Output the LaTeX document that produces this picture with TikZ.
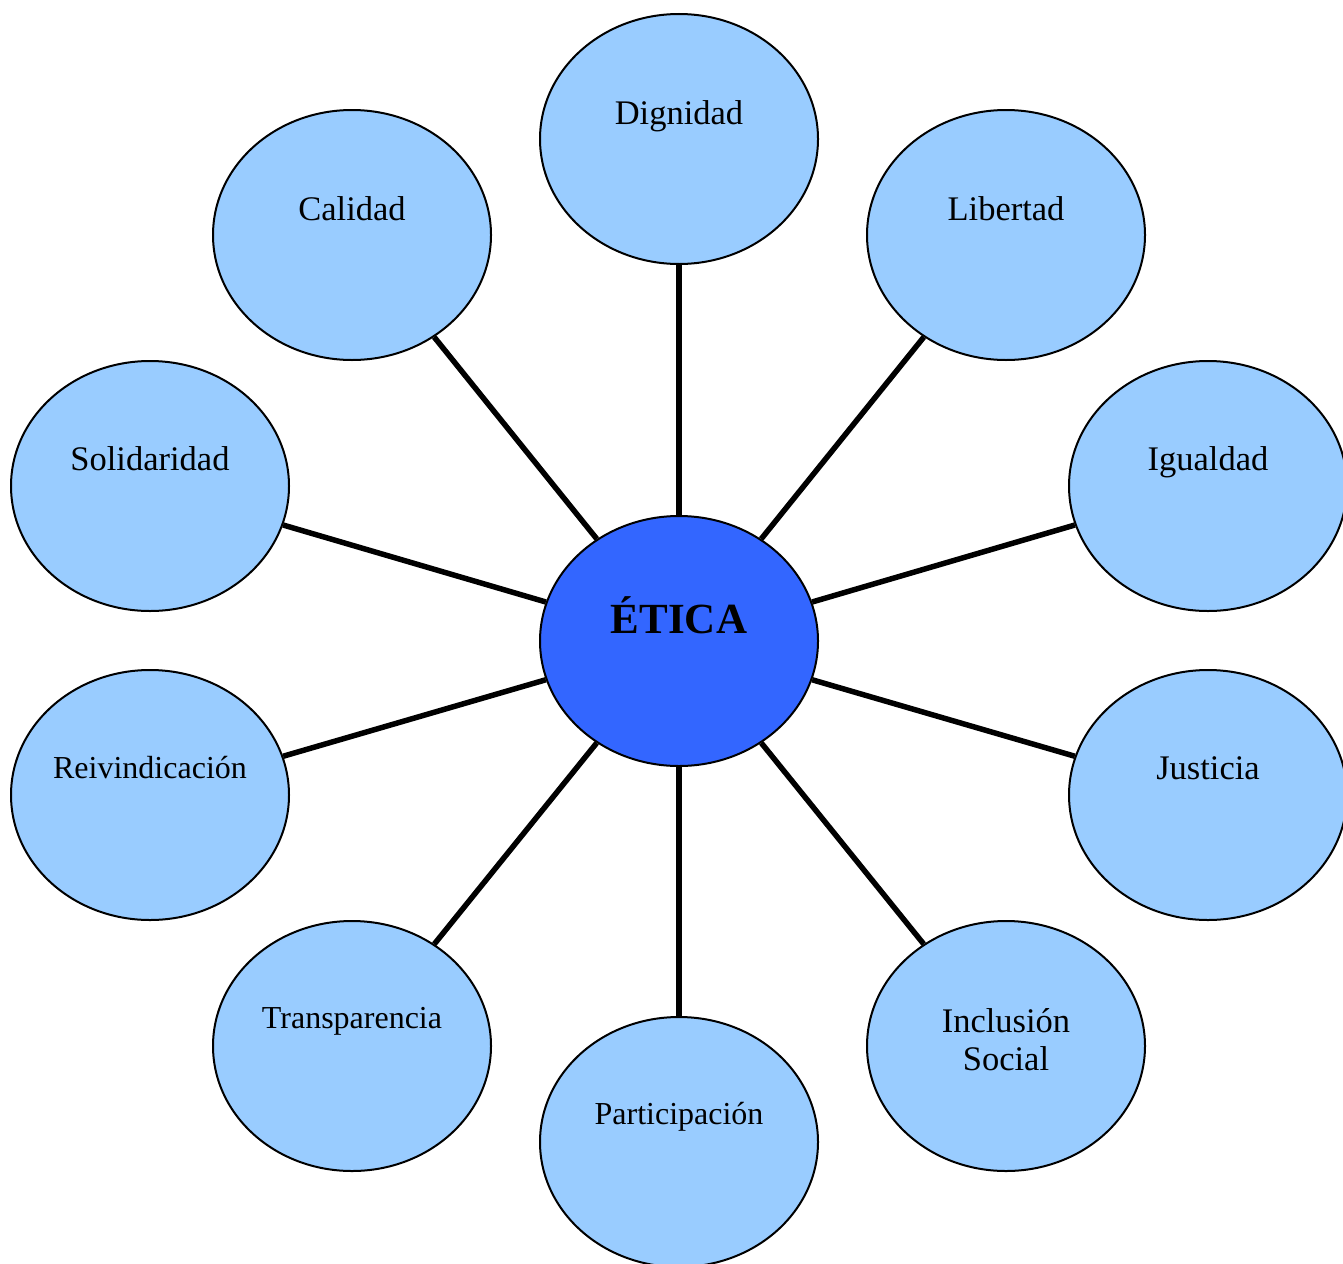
\documentclass[tikz,border=0pt]{standalone}
\usepackage{fontspec}
\setmainfont{Liberation Serif}
\usetikzlibrary{shapes.geometric}
\definecolor{lightblue}{HTML}{99CCFF}
\definecolor{coreblue}{HTML}{3366FF}
\tikzset{
  bubble/.style={ellipse, draw=black, line width=2pt, fill=lightblue,
    minimum width=278pt, minimum height=250pt, inner sep=0pt},
  core/.style={bubble, fill=coreblue},
  lbl/.style={anchor=base, inner sep=0pt, font=\fontsize{34.5}{38}\selectfont, align=center},
  lbls/.style={lbl, font=\fontsize{32}{36}\selectfont},
  corelbl/.style={lbl, font=\fontsize{43}{48}\selectfont\bfseries},
  link/.style={line width=5.5pt, draw=black}
}
\begin{document}
\begin{tikzpicture}[x=1pt,y=-1pt]
\useasboundingbox (0,0) rectangle (1343,1263);
\clip (0,0) rectangle (1343,1263);
% outer bubbles
\node[bubble] (dig) at (679,139) {};
\node[bubble] (cal) at (352,235) {};
\node[bubble] (lib) at (1006,235) {};
\node[bubble] (sol) at (150,486) {};
\node[bubble] (igu) at (1208,486) {};
\node[bubble] (rei) at (150,795) {};
\node[bubble] (jus) at (1208,795) {};
\node[bubble] (tra) at (352,1046) {};
\node[bubble] (inc) at (1006,1046) {};
\node[bubble] (par) at (679,1142) {};
\node[core] (eti) at (679,641) {};
% connectors
\foreach \n in {dig,cal,lib,sol,igu,rei,jus,tra,inc,par}
  \draw[link] (eti) -- (\n);
% labels
\node[corelbl] (eti-t) at ([yshift=8pt]eti.center) {ÉTICA};
\node[lbl] (dig-t) at ([yshift=15pt]dig.center) {Dignidad};
\node[lbl] (cal-t) at ([yshift=15pt]cal.center) {Calidad};
\node[lbl] (lib-t) at ([yshift=15pt]lib.center) {Libertad};
\node[lbl] (sol-t) at ([yshift=16pt]sol.center) {Solidaridad};
\node[lbl] (igu-t) at ([yshift=16pt]igu.center) {Igualdad};
\node[lbls] (rei-t) at ([yshift=17pt]rei.center) {Reivindicación};
\node[lbl] (jus-t) at ([yshift=16pt]jus.center) {Justicia};
\node[lbls] (tra-t) at ([yshift=18pt]tra.center) {Transparencia};
\node[lbl] (inc-t) at ([yshift=-24pt]inc.center) {Inclusión\\Social};
\node[lbls] (par-t) at ([yshift=18pt]par.center) {Participación};
\end{tikzpicture}
\end{document}
